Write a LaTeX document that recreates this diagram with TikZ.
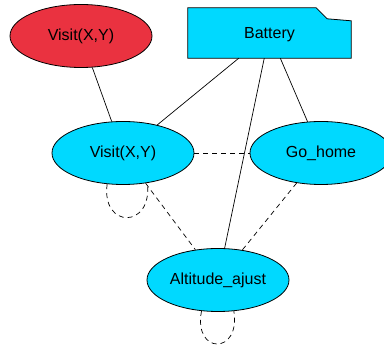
\documentclass[tikz,border=0pt]{standalone}
\usepackage{fontspec}
\setmainfont{Liberation Sans}
\usetikzlibrary{shapes.geometric}
\definecolor{goalred}{RGB}{234,50,64}
\definecolor{taskcyan}{RGB}{0,217,255}
\begin{document}
\begin{tikzpicture}[x=1pt,y=-1pt,
  every node/.style={font=\fontsize{16}{19}\selectfont, inner sep=0pt},
  oval/.style={ellipse, draw=black, line width=0.8pt, minimum width=142pt, minimum height=63pt},
  goal/.style={oval, fill=goalred},
  task/.style={oval, fill=taskcyan},
  link/.style={draw=black, line width=0.7pt},
  soft/.style={link, dash pattern=on 5pt off 4pt}]
  \clip (0,0) rectangle (384,347);

  % resource box with a folded top-right corner
  \node[minimum width=163pt, minimum height=50pt] (bat) at (269.5,33) {};
  \fill[taskcyan, draw=black, line width=0.8pt]
    (bat.south west) -- (bat.north west) -- ([xshift=-35pt]bat.north east)
    -- ([xshift=-24pt,yshift=-11pt]bat.north east)
    -- ([yshift=-13pt]bat.north east) -- (bat.south east) -- cycle;
  \node at ([yshift=-1.5pt]bat.center) {Battery};

  \node[goal] (top) at (81,36) {Visit(X,Y)};
  \node[task] (visit) at (123,153) {Visit(X,Y)};
  \node[task] (home) at (321,153) {Go\_home};
  \node[task] (alt) at (218,280) {Altitude\_ajust};

  % solid links
  \draw[link] (top) -- (visit);
  \draw[link] (bat) -- (visit);
  \draw[link] (bat) -- (alt);
  \draw[link] (bat) -- (home);

  % dashed links
  \draw[soft] (visit) -- (home);
  \draw[soft] (visit) -- (alt);
  \draw[soft] (home) -- (alt);

  % dashed self loops
  \draw[soft] (visit.243) .. controls (101,229) and (153,229) .. (visit.309);
  \draw[soft] (alt.242) .. controls (193,355) and (241,355) .. (alt.297);
\end{tikzpicture}
\end{document}
